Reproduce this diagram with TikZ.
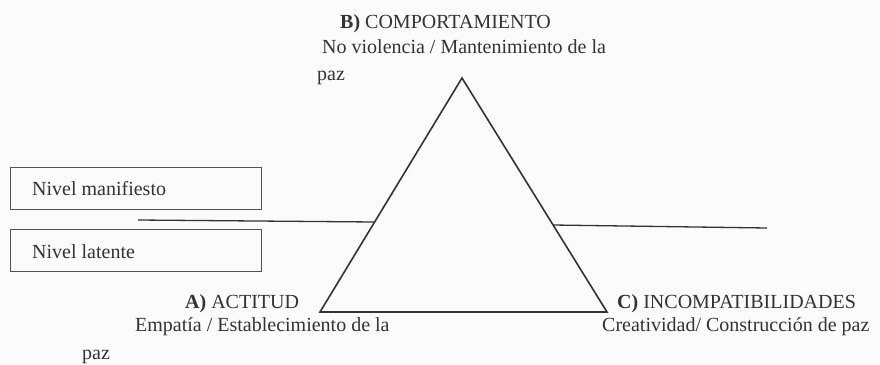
\documentclass[tikz,border=0pt]{standalone}
\usepackage{fontspec}
\setmainfont{Liberation Serif}
\definecolor{ink}{HTML}{333333}
\definecolor{bg}{HTML}{FBFBFB}
\begin{document}
\begin{tikzpicture}[x=1pt,y=-1pt,
  txt/.style={anchor=base west,inner sep=0pt,text=ink,font=\fontsize{20}{24}\selectfont},
  levelbox/.style={draw=ink!85,line width=1.4pt,minimum width=251pt,minimum height=42pt,anchor=north west,inner sep=0pt},
  edge/.style={draw=ink,line width=1.6pt}]
\fill[bg] (0,0) rectangle (880,364);
\useasboundingbox (0,0) rectangle (880,364);
\clip (0,0) rectangle (880,364);
% triangle
\coordinate (B) at (462,78);
\coordinate (A) at (320,312);
\coordinate (C) at (607,312);
\draw[edge,line join=miter] (A) -- (B) -- (C) -- cycle;
% level boxes
\node[levelbox] (man) at (10,167) {};
\node[levelbox] (lat) at (10,229) {};
\node[txt] (mantxt) at (32,195) {Nivel manifiesto};
\node[txt] (lattxt) at (32,258) {Nivel latente};
% separation lines
\coordinate (l1) at (138,220);
\coordinate (l2) at (374.6,222);
\coordinate (r1) at (553,225);
\coordinate (r2) at (767,228);
\draw[edge,line width=1.3pt] (l1) -- (l2);
\draw[edge,line width=1.3pt] (r1) -- (r2);
% labels
\node[txt] (bt) at (340,28) {\textbf{B)} COMPORTAMIENTO};
\node[txt] (bs) at (322,53) {No violencia / Mantenimiento de la};
\node[txt] (bp) at (317,80) {paz};
\node[txt] (at) at (185,308) {\textbf{A)} ACTITUD};
\node[txt] (as) at (135,331) {Empatía / Establecimiento de la};
\node[txt] (ap) at (82,359) {paz};
\node[txt] (ct) at (617,308) {\textbf{C)} INCOMPATIBILIDADES};
\node[txt] (cs) at (602,331) {Creatividad/ Construcción de paz};
\end{tikzpicture}
\end{document}
